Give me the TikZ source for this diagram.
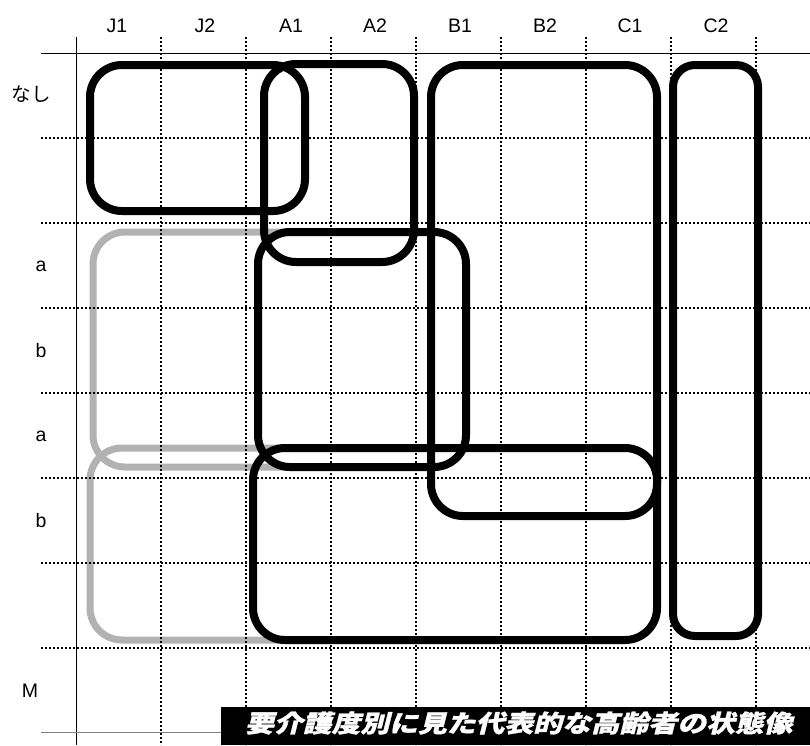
\documentclass[tikz,border=0pt]{standalone}
\usepackage{fontspec}
\setmainfont{Liberation Sans}
\newfontfamily\jp{Noto Sans CJK JP}
\newfontfamily\titlefont[FakeSlant=0.25,FakeStretch=1.2,BoldFeatures={FakeBold=1.2}]{Noto Sans CJK JP}
\begin{document}
\begin{tikzpicture}[x=1pt,y=-1pt,
  gridline/.style={line width=1.1pt, dash pattern=on 2pt off 2pt},
  axisline/.style={line width=1pt},
  blackbox/.style={line width=8pt, rounded corners=32pt},
  graybox/.style={line width=7pt, draw=black!30, rounded corners=32pt},
  lab/.style={font=\fontsize{19.5}{19.5}\selectfont, inner sep=0pt}]
\useasboundingbox (0,0) rectangle (810,745);
% gray boxes
\draw[graybox] (93,232) rectangle (466,467);
\draw[graybox] (90,448) rectangle (657,640);
% grid
\foreach \x in {161,246,331,416,501,586,671,756} \draw[gridline] (\x,37) -- (\x,745);
\foreach \y in {138,223,308,393,478,563,648} \draw[gridline] (41,\y) -- (810,\y);
\draw[axisline] (76,37) -- (76,745);
\draw[axisline] (41,53) -- (810,53);
\draw[axisline, black!50] (41,732) -- (221,732);
% black boxes
\draw[blackbox] (90,65) rectangle (305,211);
\draw[blackbox] (264,64) rectangle (414,262);
\draw[blackbox] (431,65) rectangle (657,516);
\draw[blackbox, rounded corners=22pt] (673,65) rectangle (758,636);
\draw[blackbox] (258,232) rectangle (466,467);
\draw[blackbox] (253,448) rectangle (657,640);
% column labels
\node[lab] (cJ1) at (117,26) {J1};
\node[lab] (cJ2) at (205,26) {J2};
\node[lab] (cA1) at (291,26) {A1};
\node[lab] (cA2) at (375,26) {A2};
\node[lab] (cB1) at (460,26) {B1};
\node[lab] (cB2) at (545,26) {B2};
\node[lab] (cC1) at (630,26) {C1};
\node[lab] (cC2) at (716,26) {C2};
% row labels
\node[lab, font=\jp\fontsize{19.5}{19.5}\selectfont] (rN) at (31,94) {なし};
\node[lab] (r1) at (41,266) {a};
\node[lab] (r2) at (41,351) {b};
\node[lab] (r3) at (41,436) {a};
\node[lab] (r4) at (41,521) {b};
\node[lab] (rM) at (30,691) {M};
% title
\fill (221,707) rectangle (810,745);
\node[anchor=west, text=white, inner sep=0pt, font=\titlefont\bfseries\fontsize{24}{24}\selectfont] (title) at (245,723) {要介護度別に見た代表的な高齢者の状態像};
\end{tikzpicture}
\end{document}
